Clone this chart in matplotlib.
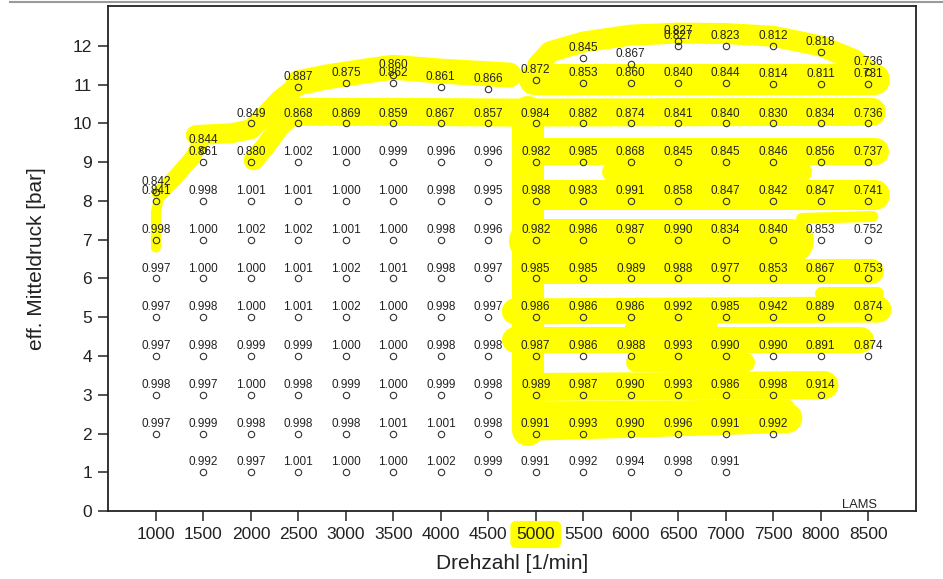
import matplotlib
matplotlib.use('Agg')
import matplotlib.pyplot as plt
from matplotlib.lines import Line2D

plt.rcParams['font.family'] = ['Liberation Sans', 'DejaVu Sans']

# engine map: lambda values on the regular grid (pme 1..10 bar)
rpm_grid = [1000, 1500, 2000, 2500, 3000, 3500, 4000, 4500,
            5000, 5500, 6000, 6500, 7000, 7500, 8000, 8500]
pme_levels = [10, 9, 8, 7, 6, 5, 4, 3, 2, 1]
lam_10 = [None, None, 0.849, 0.868, 0.869, 0.859, 0.867, 0.857,
          0.984, 0.882, 0.874, 0.841, 0.840, 0.830, 0.834, 0.736]
lam_9 = [None, 0.861, 0.880, 1.002, 1.000, 0.999, 0.996, 0.996,
         0.982, 0.985, 0.868, 0.845, 0.845, 0.846, 0.856, 0.737]
lam_8 = [0.841, 0.998, 1.001, 1.001, 1.000, 1.000, 0.998, 0.995,
         0.988, 0.983, 0.991, 0.858, 0.847, 0.842, 0.847, 0.741]
lam_7 = [0.998, 1.000, 1.002, 1.002, 1.001, 1.000, 0.998, 0.996,
         0.982, 0.986, 0.987, 0.990, 0.834, 0.840, 0.853, 0.752]
lam_6 = [0.997, 1.000, 1.000, 1.001, 1.002, 1.001, 0.998, 0.997,
         0.985, 0.985, 0.989, 0.988, 0.977, 0.853, 0.867, 0.753]
lam_5 = [0.997, 0.998, 1.000, 1.001, 1.002, 1.000, 0.998, 0.997,
         0.986, 0.986, 0.986, 0.992, 0.985, 0.942, 0.889, 0.874]
lam_4 = [0.997, 0.998, 0.999, 0.999, 1.000, 1.000, 0.998, 0.998,
         0.987, 0.986, 0.988, 0.993, 0.990, 0.990, 0.891, 0.874]
lam_3 = [0.998, 0.997, 1.000, 0.998, 0.999, 1.000, 0.999, 0.998,
         0.989, 0.987, 0.990, 0.993, 0.986, 0.998, 0.914, None]
lam_2 = [0.997, 0.999, 0.998, 0.998, 0.998, 1.001, 1.001, 0.998,
         0.991, 0.993, 0.990, 0.996, 0.991, 0.992, None, None]
lam_1 = [None, 0.992, 0.997, 1.001, 1.000, 1.000, 1.002, 0.999,
         0.991, 0.992, 0.994, 0.998, 0.991, None, None, None]
grid_rows = [lam_10, lam_9, lam_8, lam_7, lam_6, lam_5, lam_4, lam_3, lam_2, lam_1]

# full load points (measured pme, not on the grid)
wot_rpm = [1000, 1500, 2500, 3000, 3500, 3500, 4000, 4500, 5000, 5500, 5500,
           6000, 6000, 6500, 6500, 6500, 7000, 7000, 7500, 7500, 8000, 8000,
           8500, 8500]
wot_pme = [8.22, 9.32, 10.94, 11.05, 11.05, 11.25, 10.94, 10.89, 11.12, 11.05, 11.69,
           11.05, 11.54, 11.05, 12.0, 12.12, 11.05, 12.0, 11.02, 12.0, 11.02, 11.85,
           11.02, 11.33]
wot_lam = [0.842, 0.844, 0.887, 0.875, 0.862, 0.860, 0.861, 0.866, 0.872, 0.853, 0.845,
           0.860, 0.867, 0.840, 0.827, 0.827, 0.844, 0.823, 0.814, 0.812, 0.811, 0.818,
           0.731, 0.736]

# hand drawn marker strokes: (rpm, pme, width in px)
marker_strokes = [
    ([1000, 1000, 1040], [6.8, 7.7, 8.2], 10),
    ([1040, 1200, 1380, 1480], [8.2, 8.6, 9.1, 9.55], 16),
    ([1420, 1800, 2000, 2150, 2300, 2480], [9.7, 9.75, 9.85, 10.2, 10.6, 10.95], 20),
    ([2500, 2800, 3200, 3500, 4000, 4720], [11.05, 11.2, 11.35, 11.45, 11.35, 11.25], 25),
    ([2030, 2150, 2300, 2450], [9.05, 9.4, 9.9, 10.25], 20),
    ([2450, 3500, 4800, 8540], [10.3, 10.3, 10.28, 10.3], 28),
    ([4980, 8560], [11.15, 11.15], 31),
    ([5020, 5150, 5500, 6000, 6500, 7000, 7500, 8000, 8350, 8580],
     [11.5, 11.85, 12.1, 12.28, 12.33, 12.32, 12.25, 12.0, 11.65, 11.2], 21),
    ([4920, 4920], [2.1, 10.3], 32),
    ([4950, 8570], [9.3, 9.3], 27),
    ([5800, 7800], [8.75, 8.75], 20),
    ([4950, 8570], [8.15, 8.15], 30),
    ([4950, 7700], [6.98, 6.98], 44),
    ([7800, 8550], [7.55, 7.6], 11),
    ([4950, 8530], [6.2, 6.2], 25),
    ([8000, 8590], [5.62, 5.62], 13),
    ([4780, 8610], [5.15, 5.2], 26),
    ([6000, 6850], [4.75, 4.75], 13),
    ([4780, 8430], [4.4, 4.4], 26),
    ([6050, 7200], [3.85, 3.85], 19),
    ([4950, 8040], [3.2, 3.25], 28),
    ([5050, 7650], [2.65, 2.7], 14),
    ([4950, 7650], [2.2, 2.4], 30),
]

fig = plt.figure(figsize=(9.43, 5.79), dpi=100)
ax = fig.add_axes([0.1145, 0.1174, 0.8569, 0.8722])

px = 0.72  # points per pixel at 100 dpi
for xs, ys, w in marker_strokes:
    ax.plot(xs, ys, color='#ffff00', lw=w * px, solid_capstyle='round',
            solid_joinstyle='round', zorder=1)

pts_x, pts_y, pts_v = [], [], []
for pme, row in zip(pme_levels, grid_rows):
    for rpm, v in zip(rpm_grid, row):
        if v is not None:
            pts_x.append(rpm)
            pts_y.append(pme)
            pts_v.append(v)
pts_x += wot_rpm
pts_y += wot_pme
pts_v += wot_lam

ax.plot(pts_x, pts_y, 'o', ms=4.6, mfc='none', mec='#333333', mew=0.8, zorder=3)
for x, y, v in zip(pts_x, pts_y, pts_v):
    ax.annotate('%.3f' % v, (x, y), xytext=(0, 5), textcoords='offset points',
                ha='center', va='baseline', fontsize=8.5, color='#222222', zorder=4)

ax.text(0.952, 0.006, 'LAMS', transform=ax.transAxes, ha='right', va='baseline',
        fontsize=9.3, color='#222222')

ax.set_xlim(495, 9005)
ax.set_ylim(0, 13.03)
ax.set_xticks(rpm_grid)
ax.set_yticks(range(0, 13))
ax.tick_params(direction='out', length=7.5, width=1.1, labelsize=12.5, pad=4,
               colors='#222222')
for s in ax.spines.values():
    s.set_linewidth(1.3)
    s.set_color('#222222')

for lbl in ax.get_xticklabels():
    if lbl.get_text() == '5000':
        lbl.set_bbox(dict(facecolor='#ffff00', edgecolor='none',
                          boxstyle='round,pad=0.35'))

ax.set_xlabel('Drehzahl [1/min]', fontsize=15, color='#222222', labelpad=9)
ax.set_ylabel('eff. Mitteldruck [bar]', fontsize=15, color='#222222', labelpad=19)

fig.add_artist(Line2D([10 / 943, 1.0], [1 - 2 / 579, 1 - 2 / 579],
                      color='#9a9a9a', lw=1.5))

plt.savefig('out.png', dpi=100)
plt.close()
